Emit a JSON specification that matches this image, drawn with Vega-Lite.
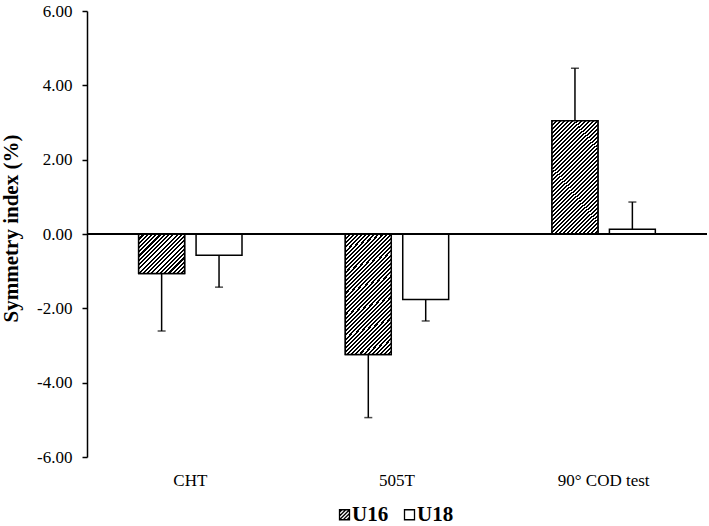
{
  "$schema": "https://vega.github.io/schema/vega-lite/v6.json",
  "width": 620,
  "height": 446,
  "autosize": {"type": "none"},
  "padding": {"left": 87, "top": 11, "right": 2, "bottom": 69},
  "background": "white",
  "config": {
    "view": {"stroke": null},
    "font": "Liberation Serif",
    "axis": {"labelFont": "Liberation Serif", "titleFont": "Liberation Serif"},
    "legend": {"labelFont": "Liberation Serif"}
  },
  "data": {
    "values": [
      {"test": "CHT", "group": "U16", "value": -1.06, "end": -2.61},
      {"test": "CHT", "group": "U18", "value": -0.57, "end": -1.43},
      {"test": "505T", "group": "U16", "value": -3.24, "end": -4.94},
      {"test": "505T", "group": "U18", "value": -1.76, "end": -2.34},
      {"test": "90° COD test", "group": "U16", "value": 3.05, "end": 4.46},
      {"test": "90° COD test", "group": "U18", "value": 0.13, "end": 0.86}
    ]
  },
  "encoding": {
    "x": {
      "field": "test",
      "type": "nominal",
      "sort": ["CHT", "505T", "90° COD test"],
      "scale": {"paddingInner": 0.5, "paddingOuter": 0.25},
      "axis": {
        "title": null,
        "domain": false,
        "ticks": false,
        "labelAngle": 0,
        "labelFont": "Liberation Serif",
        "labelFontSize": 17,
        "labelColor": "black",
        "labelPadding": 15
      }
    },
    "xOffset": {
      "field": "group",
      "type": "nominal",
      "scale": {"paddingInner": 0.2, "paddingOuter": 0}
    }
  },
  "layer": [
    {
      "mark": {"type": "bar", "fill": "white", "stroke": "black", "strokeWidth": 1.5},
      "encoding": {
        "y": {
          "field": "value",
          "type": "quantitative",
          "scale": {"domain": [-6, 6], "nice": false, "zero": true},
          "axis": {
            "title": "Symmetry index (%)",
            "titleFont": "Liberation Serif",
            "titleFontSize": 21,
            "titleFontWeight": "bold",
            "titleColor": "black",
            "titlePadding": 15,
            "titleY": 217,
            "values": [-6, -4, -2, 0, 2, 4, 6],
            "labelExpr": "replace(format(datum.value, '.2f'), '\u2212', '-')",
            "grid": false,
            "domainColor": "black",
            "domainWidth": 1.5,
            "tickColor": "black",
            "tickWidth": 1.5,
            "tickSize": 5,
            "labelFont": "Liberation Serif",
            "labelFontSize": 17,
            "labelColor": "black",
            "labelPadding": 10
          }
        }
      }
    },
    {
      "transform": [{"filter": "datum.group === 'U16' && datum.test === 'CHT'"}],
      "mark": {
        "type": "bar",
        "stroke": "black",
        "strokeWidth": 1.5,
        "fill": {
          "gradient": "linear", "x1": 0, "y1": 0, "x2": 1.07, "y2": 0.918,
          "stops": [
            {"offset": 0, "color": "#000"}, {"offset": 0.025, "color": "#000"}, {"offset": 0.025, "color": "#fff"}, {"offset": 0.05, "color": "#fff"},
            {"offset": 0.05, "color": "#000"}, {"offset": 0.075, "color": "#000"}, {"offset": 0.075, "color": "#fff"}, {"offset": 0.1, "color": "#fff"},
            {"offset": 0.1, "color": "#000"}, {"offset": 0.125, "color": "#000"}, {"offset": 0.125, "color": "#fff"}, {"offset": 0.15, "color": "#fff"},
            {"offset": 0.15, "color": "#000"}, {"offset": 0.175, "color": "#000"}, {"offset": 0.175, "color": "#fff"}, {"offset": 0.2, "color": "#fff"},
            {"offset": 0.2, "color": "#000"}, {"offset": 0.225, "color": "#000"}, {"offset": 0.225, "color": "#fff"}, {"offset": 0.25, "color": "#fff"},
            {"offset": 0.25, "color": "#000"}, {"offset": 0.275, "color": "#000"}, {"offset": 0.275, "color": "#fff"}, {"offset": 0.3, "color": "#fff"},
            {"offset": 0.3, "color": "#000"}, {"offset": 0.325, "color": "#000"}, {"offset": 0.325, "color": "#fff"}, {"offset": 0.35, "color": "#fff"},
            {"offset": 0.35, "color": "#000"}, {"offset": 0.375, "color": "#000"}, {"offset": 0.375, "color": "#fff"}, {"offset": 0.4, "color": "#fff"},
            {"offset": 0.4, "color": "#000"}, {"offset": 0.425, "color": "#000"}, {"offset": 0.425, "color": "#fff"}, {"offset": 0.45, "color": "#fff"},
            {"offset": 0.45, "color": "#000"}, {"offset": 0.475, "color": "#000"}, {"offset": 0.475, "color": "#fff"}, {"offset": 0.5, "color": "#fff"},
            {"offset": 0.5, "color": "#000"}, {"offset": 0.525, "color": "#000"}, {"offset": 0.525, "color": "#fff"}, {"offset": 0.55, "color": "#fff"},
            {"offset": 0.55, "color": "#000"}, {"offset": 0.575, "color": "#000"}, {"offset": 0.575, "color": "#fff"}, {"offset": 0.6, "color": "#fff"},
            {"offset": 0.6, "color": "#000"}, {"offset": 0.625, "color": "#000"}, {"offset": 0.625, "color": "#fff"}, {"offset": 0.65, "color": "#fff"},
            {"offset": 0.65, "color": "#000"}, {"offset": 0.675, "color": "#000"}, {"offset": 0.675, "color": "#fff"}, {"offset": 0.7, "color": "#fff"},
            {"offset": 0.7, "color": "#000"}, {"offset": 0.725, "color": "#000"}, {"offset": 0.725, "color": "#fff"}, {"offset": 0.75, "color": "#fff"},
            {"offset": 0.75, "color": "#000"}, {"offset": 0.775, "color": "#000"}, {"offset": 0.775, "color": "#fff"}, {"offset": 0.8, "color": "#fff"},
            {"offset": 0.8, "color": "#000"}, {"offset": 0.825, "color": "#000"}, {"offset": 0.825, "color": "#fff"}, {"offset": 0.85, "color": "#fff"},
            {"offset": 0.85, "color": "#000"}, {"offset": 0.875, "color": "#000"}, {"offset": 0.875, "color": "#fff"}, {"offset": 0.9, "color": "#fff"},
            {"offset": 0.9, "color": "#000"}, {"offset": 0.925, "color": "#000"}, {"offset": 0.925, "color": "#fff"}, {"offset": 0.95, "color": "#fff"},
            {"offset": 0.95, "color": "#000"}, {"offset": 0.975, "color": "#000"}, {"offset": 0.975, "color": "#fff"}, {"offset": 1, "color": "#fff"}
          ]
        }
      },
      "encoding": {
        "y": {"field": "value", "type": "quantitative"}
      }
    },
    {
      "transform": [{"filter": "datum.group === 'U16' && datum.test !== 'CHT'"}],
      "mark": {
        "type": "bar",
        "stroke": "black",
        "strokeWidth": 1.5,
        "fill": {
          "gradient": "linear", "x1": 0, "y1": 0, "x2": 0.474, "y2": 1.206,
          "stops": [
            {"offset": 0, "color": "#000"}, {"offset": 0.0125, "color": "#000"}, {"offset": 0.0125, "color": "#fff"}, {"offset": 0.025, "color": "#fff"},
            {"offset": 0.025, "color": "#000"}, {"offset": 0.0375, "color": "#000"}, {"offset": 0.0375, "color": "#fff"}, {"offset": 0.05, "color": "#fff"},
            {"offset": 0.05, "color": "#000"}, {"offset": 0.0625, "color": "#000"}, {"offset": 0.0625, "color": "#fff"}, {"offset": 0.075, "color": "#fff"},
            {"offset": 0.075, "color": "#000"}, {"offset": 0.0875, "color": "#000"}, {"offset": 0.0875, "color": "#fff"}, {"offset": 0.1, "color": "#fff"},
            {"offset": 0.1, "color": "#000"}, {"offset": 0.1125, "color": "#000"}, {"offset": 0.1125, "color": "#fff"}, {"offset": 0.125, "color": "#fff"},
            {"offset": 0.125, "color": "#000"}, {"offset": 0.1375, "color": "#000"}, {"offset": 0.1375, "color": "#fff"}, {"offset": 0.15, "color": "#fff"},
            {"offset": 0.15, "color": "#000"}, {"offset": 0.1625, "color": "#000"}, {"offset": 0.1625, "color": "#fff"}, {"offset": 0.175, "color": "#fff"},
            {"offset": 0.175, "color": "#000"}, {"offset": 0.1875, "color": "#000"}, {"offset": 0.1875, "color": "#fff"}, {"offset": 0.2, "color": "#fff"},
            {"offset": 0.2, "color": "#000"}, {"offset": 0.2125, "color": "#000"}, {"offset": 0.2125, "color": "#fff"}, {"offset": 0.225, "color": "#fff"},
            {"offset": 0.225, "color": "#000"}, {"offset": 0.2375, "color": "#000"}, {"offset": 0.2375, "color": "#fff"}, {"offset": 0.25, "color": "#fff"},
            {"offset": 0.25, "color": "#000"}, {"offset": 0.2625, "color": "#000"}, {"offset": 0.2625, "color": "#fff"}, {"offset": 0.275, "color": "#fff"},
            {"offset": 0.275, "color": "#000"}, {"offset": 0.2875, "color": "#000"}, {"offset": 0.2875, "color": "#fff"}, {"offset": 0.3, "color": "#fff"},
            {"offset": 0.3, "color": "#000"}, {"offset": 0.3125, "color": "#000"}, {"offset": 0.3125, "color": "#fff"}, {"offset": 0.325, "color": "#fff"},
            {"offset": 0.325, "color": "#000"}, {"offset": 0.3375, "color": "#000"}, {"offset": 0.3375, "color": "#fff"}, {"offset": 0.35, "color": "#fff"},
            {"offset": 0.35, "color": "#000"}, {"offset": 0.3625, "color": "#000"}, {"offset": 0.3625, "color": "#fff"}, {"offset": 0.375, "color": "#fff"},
            {"offset": 0.375, "color": "#000"}, {"offset": 0.3875, "color": "#000"}, {"offset": 0.3875, "color": "#fff"}, {"offset": 0.4, "color": "#fff"},
            {"offset": 0.4, "color": "#000"}, {"offset": 0.4125, "color": "#000"}, {"offset": 0.4125, "color": "#fff"}, {"offset": 0.425, "color": "#fff"},
            {"offset": 0.425, "color": "#000"}, {"offset": 0.4375, "color": "#000"}, {"offset": 0.4375, "color": "#fff"}, {"offset": 0.45, "color": "#fff"},
            {"offset": 0.45, "color": "#000"}, {"offset": 0.4625, "color": "#000"}, {"offset": 0.4625, "color": "#fff"}, {"offset": 0.475, "color": "#fff"},
            {"offset": 0.475, "color": "#000"}, {"offset": 0.4875, "color": "#000"}, {"offset": 0.4875, "color": "#fff"}, {"offset": 0.5, "color": "#fff"},
            {"offset": 0.5, "color": "#000"}, {"offset": 0.5125, "color": "#000"}, {"offset": 0.5125, "color": "#fff"}, {"offset": 0.525, "color": "#fff"},
            {"offset": 0.525, "color": "#000"}, {"offset": 0.5375, "color": "#000"}, {"offset": 0.5375, "color": "#fff"}, {"offset": 0.55, "color": "#fff"},
            {"offset": 0.55, "color": "#000"}, {"offset": 0.5625, "color": "#000"}, {"offset": 0.5625, "color": "#fff"}, {"offset": 0.575, "color": "#fff"},
            {"offset": 0.575, "color": "#000"}, {"offset": 0.5875, "color": "#000"}, {"offset": 0.5875, "color": "#fff"}, {"offset": 0.6, "color": "#fff"},
            {"offset": 0.6, "color": "#000"}, {"offset": 0.6125, "color": "#000"}, {"offset": 0.6125, "color": "#fff"}, {"offset": 0.625, "color": "#fff"},
            {"offset": 0.625, "color": "#000"}, {"offset": 0.6375, "color": "#000"}, {"offset": 0.6375, "color": "#fff"}, {"offset": 0.65, "color": "#fff"},
            {"offset": 0.65, "color": "#000"}, {"offset": 0.6625, "color": "#000"}, {"offset": 0.6625, "color": "#fff"}, {"offset": 0.675, "color": "#fff"},
            {"offset": 0.675, "color": "#000"}, {"offset": 0.6875, "color": "#000"}, {"offset": 0.6875, "color": "#fff"}, {"offset": 0.7, "color": "#fff"},
            {"offset": 0.7, "color": "#000"}, {"offset": 0.7125, "color": "#000"}, {"offset": 0.7125, "color": "#fff"}, {"offset": 0.725, "color": "#fff"},
            {"offset": 0.725, "color": "#000"}, {"offset": 0.7375, "color": "#000"}, {"offset": 0.7375, "color": "#fff"}, {"offset": 0.75, "color": "#fff"},
            {"offset": 0.75, "color": "#000"}, {"offset": 0.7625, "color": "#000"}, {"offset": 0.7625, "color": "#fff"}, {"offset": 0.775, "color": "#fff"},
            {"offset": 0.775, "color": "#000"}, {"offset": 0.7875, "color": "#000"}, {"offset": 0.7875, "color": "#fff"}, {"offset": 0.8, "color": "#fff"},
            {"offset": 0.8, "color": "#000"}, {"offset": 0.8125, "color": "#000"}, {"offset": 0.8125, "color": "#fff"}, {"offset": 0.825, "color": "#fff"},
            {"offset": 0.825, "color": "#000"}, {"offset": 0.8375, "color": "#000"}, {"offset": 0.8375, "color": "#fff"}, {"offset": 0.85, "color": "#fff"},
            {"offset": 0.85, "color": "#000"}, {"offset": 0.8625, "color": "#000"}, {"offset": 0.8625, "color": "#fff"}, {"offset": 0.875, "color": "#fff"},
            {"offset": 0.875, "color": "#000"}, {"offset": 0.8875, "color": "#000"}, {"offset": 0.8875, "color": "#fff"}, {"offset": 0.9, "color": "#fff"},
            {"offset": 0.9, "color": "#000"}, {"offset": 0.9125, "color": "#000"}, {"offset": 0.9125, "color": "#fff"}, {"offset": 0.925, "color": "#fff"},
            {"offset": 0.925, "color": "#000"}, {"offset": 0.9375, "color": "#000"}, {"offset": 0.9375, "color": "#fff"}, {"offset": 0.95, "color": "#fff"},
            {"offset": 0.95, "color": "#000"}, {"offset": 0.9625, "color": "#000"}, {"offset": 0.9625, "color": "#fff"}, {"offset": 0.975, "color": "#fff"},
            {"offset": 0.975, "color": "#000"}, {"offset": 0.9875, "color": "#000"}, {"offset": 0.9875, "color": "#fff"}, {"offset": 1, "color": "#fff"}
          ]
        }
      },
      "encoding": {
        "y": {"field": "value", "type": "quantitative"}
      }
    },
    {
      "mark": {"type": "rule", "color": "black", "strokeWidth": 1.5},
      "encoding": {
        "y": {"field": "value", "type": "quantitative"},
        "y2": {"field": "end"}
      }
    },
    {
      "mark": {"type": "tick", "color": "black", "thickness": 1.5, "size": 8},
      "encoding": {
        "y": {"field": "end", "type": "quantitative"}
      }
    },
    {
      "mark": {"type": "rule", "color": "black", "strokeWidth": 1.5},
      "encoding": {
        "y": {"datum": 0, "type": "quantitative"},
        "x": null,
        "xOffset": null
      }
    },
    {
      "transform": [{"filter": "false"}],
      "mark": {"type": "point", "filled": false, "color": "black", "strokeWidth": 1.3, "opacity": 1},
      "encoding": {
        "y": {"field": "value", "type": "quantitative"},
        "shape": {
          "field": "group",
          "type": "nominal",
          "scale": {
            "domain": ["U16", "U18"],
            "range": [
              "M-1,-1H1V1H-1Z M-1,-0.5L-0.5,-1 M-1,0.25L0.25,-1 M-1,1L1,-1 M-0.25,1L1,-0.25 M0.5,1L1,0.5",
              "M-1,-1H1V1H-1Z"
            ]
          },
          "legend": {
            "title": null,
            "orient": "none",
            "legendX": 247,
            "legendY": 493,
            "direction": "horizontal",
            "symbolSize": 100,
            "symbolStrokeColor": "black",
            "symbolStrokeWidth": 1.3,
            "symbolOpacity": 1,
            "labelFont": "Liberation Serif",
            "labelFontSize": 21,
            "labelFontWeight": "bold",
            "labelColor": "black",
            "labelOffset": -3,
            "columnPadding": 10
          }
        }
      }
    }
  ]
}
